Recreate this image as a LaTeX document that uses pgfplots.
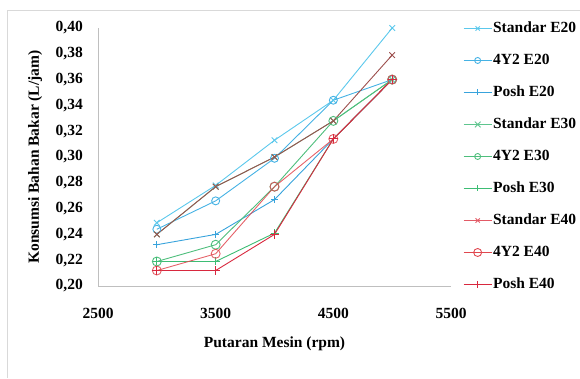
\documentclass[border=0pt]{standalone}
\usepackage{pgfplots}
\pgfplotsset{compat=1.18}
\usepackage{fontspec}
\setmainfont{Liberation Serif}
\definecolor{cA}{HTML}{5BC8EC}
\definecolor{cB}{HTML}{45B2E4}
\definecolor{cC}{HTML}{38A3DC}
\definecolor{cD}{HTML}{5EC58E}
\definecolor{cE}{HTML}{4EBE7C}
\definecolor{cF}{HTML}{3DBD74}
\definecolor{cG}{HTML}{E25A66}
\definecolor{cGd}{HTML}{9C4E4C}
\definecolor{cH}{HTML}{E0474F}
\definecolor{cI}{HTML}{D8283E}
\definecolor{axgray}{HTML}{BFBFBF}
\begin{document}
\begin{tikzpicture}[x=1bp,y=1bp]
\useasboundingbox (0,0) rectangle (580,378);
\draw[gray!30, line width=0.8bp] (7.5,0) -- (7.5,368) -- (580,368);
\begin{axis}[
  at={(98bp,92bp)}, anchor=south west,
  scale only axis, width=353bp, height=258bp,
  xmin=2500, xmax=5500, ymin=0.20, ymax=0.40,
  xtick={2500,3500,4500,5500},
  ytick={0.20,0.22,0.24,0.26,0.28,0.30,0.32,0.34,0.36,0.38,0.40},
  axis lines*=left,
  axis line style={axgray, line width=0.8bp, -},
  major tick length=0pt,
  font=\fontsize{15.5bp}{18bp}\selectfont\bfseries,
  /pgf/number format/assume math mode=true,
  xticklabel style={/pgf/number format/set thousands separator={}, inner sep=0pt, anchor=north, yshift=-21.5bp},
  yticklabel style={/pgf/number format/.cd, fixed, fixed zerofill, precision=2, use comma, /tikz/.cd, inner sep=0pt, anchor=east, xshift=-15bp},
  xlabel={Putaran Mesin (rpm)},
  ylabel={Konsumsi Bahan Bakar (L/jam)},
  xlabel style={at={(axis description cs:0.5,-0.225)}, anchor=center, inner sep=0pt},
  ylabel style={at={(axis description cs:-0.178,0.5)}, anchor=center, rotate=0, inner sep=0pt},
  clip=false,
  every axis plot/.append style={line width=0.9bp},
  legend image code/.code={\draw[#1, mark=none] (0bp,0bp) -- (28bp,0bp); \draw[#1, only marks] plot coordinates {(14bp,0bp)};},
  legend cell align=left,
  legend style={at={(axis description cs:1.034,1.027)}, anchor=north west, draw=none, fill=none,
    inner sep=0pt, row sep=17.5bp, nodes={inner sep=1bp, text height=10.5bp, text depth=2bp},
    font=\fontsize{15.5bp}{18bp}\selectfont\bfseries},
]
\addplot[cA, mark=x, mark size=4bp, forget plot] coordinates {(3000,0.249)(3500,0.278)(4000,0.313)(4500,0.344)(5000,0.400)};
\addplot[cB, mark=o, mark size=4bp, forget plot] coordinates {(3000,0.244)(3500,0.266)(4000,0.299)(4500,0.344)(5000,0.360)};
\addplot[cC, mark=+, mark size=3.5bp, forget plot] coordinates {(3000,0.232)(3500,0.240)(4000,0.267)(4500,0.314)(5000,0.360)};
\addplot[cD, mark=x, mark size=4bp, forget plot] coordinates {(3000,0.240)(3500,0.277)(4000,0.300)(4500,0.328)(5000,0.360)};
\addplot[cE, mark=o, mark size=4.5bp, forget plot] coordinates {(3000,0.219)(3500,0.232)(4000,0.277)(4500,0.328)(5000,0.360)};
\addplot[cF, mark=+, mark size=4bp, forget plot] coordinates {(3000,0.219)(3500,0.219)(4000,0.241)(4500,0.314)(5000,0.360)};
\addplot[cGd, mark=x, mark size=4bp, forget plot] coordinates {(3000,0.240)(3500,0.277)(4000,0.300)(4500,0.328)(5000,0.379)};
\addplot[cH, mark=o, mark size=4.5bp, opacity=0.85, forget plot] coordinates {(3000,0.212)(3500,0.225)(4000,0.277)(4500,0.314)(5000,0.360)};
\addplot[cI, mark=+, mark size=4.5bp, forget plot] coordinates {(3000,0.212)(3500,0.212)(4000,0.240)(4500,0.314)(5000,0.360)};
\addlegendimage{color=cA, mark=x, mark size=3bp, line width=0.9bp}
\addlegendentry{Standar E20}
\addlegendimage{color=cB, mark=o, mark size=3bp, line width=0.9bp}
\addlegendentry{4Y2 E20}
\addlegendimage{color=cC, mark=+, mark size=3bp, line width=0.9bp}
\addlegendentry{Posh E20}
\addlegendimage{color=cD, mark=x, mark size=4bp, line width=0.9bp}
\addlegendentry{Standar E30}
\addlegendimage{color=cE, mark=o, mark size=3bp, line width=0.9bp}
\addlegendentry{4Y2 E30}
\addlegendimage{color=cF, mark=+, mark size=3bp, line width=0.9bp}
\addlegendentry{Posh E30}
\addlegendimage{color=cG, mark=x, mark size=3bp, line width=0.9bp}
\addlegendentry{Standar E40}
\addlegendimage{color=cH, mark=o, mark size=4bp, line width=0.9bp}
\addlegendentry{4Y2 E40}
\addlegendimage{color=cI, mark=+, mark size=3.5bp, line width=0.9bp}
\addlegendentry{Posh E40}
\end{axis}
\end{tikzpicture}
\end{document}
